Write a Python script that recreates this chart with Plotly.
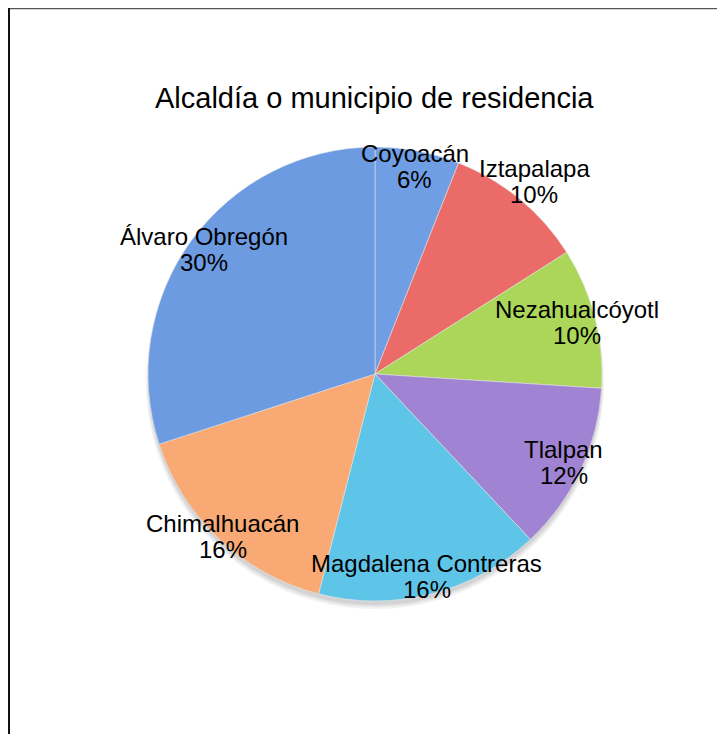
import math
import plotly.graph_objects as go

# ---- data ----
categories = ["Coyoacán", "Iztapalapa", "Nezahualcóyotl", "Tlalpan",
              "Magdalena Contreras", "Chimalhuacán", "Álvaro Obregón"]
values = [6, 10, 10, 12, 16, 16, 30]
title_text = "Alcaldía o municipio de residencia"

# ---- style ----
colors = ["#6f9ee4", "#ea6b68", "#acd659", "#a083d2", "#5fc5e8", "#f9aa74", "#6c9be2"]
label_radius = [0.93, 1.10, 0.92, 0.92, 0.92, 0.98, 0.93]

W, H = 725, 734
OFF = 8  # page body margin offset
cx, cy, R = 375 - OFF, 374 - OFF, 227
LINE_GAP = 26
FONT = "Liberation Sans, Arial, sans-serif"

fig = go.Figure()
fig.add_trace(go.Pie(
    labels=categories, values=values, sort=False, direction="clockwise",
    rotation=0, textinfo="none", hoverinfo="label+percent",
    marker=dict(colors=colors, line=dict(color="rgba(230,230,230,0.7)", width=0.8)),
    domain=dict(x=[(cx - R) / W, (cx + R) / W],
                y=[(H - cy - R) / H, (H - cy + R) / H]),
    showlegend=False,
))

total = sum(values)
cum = 0
annotations = []
for cat, v, rf in zip(categories, values, label_radius):
    mid = (cum + v / 2) / total * 2 * math.pi
    cum += v
    px = cx + rf * R * math.sin(mid)
    py = cy - rf * R * math.cos(mid)
    pct = round(v / total * 100)
    for txt, dy in ((cat, -LINE_GAP / 2), (f"{pct}%", LINE_GAP / 2)):
        annotations.append(dict(
            x=px / W, y=1 - (py + dy) / H, xref="paper", yref="paper",
            text=txt, showarrow=False, xanchor="center", yanchor="middle",
            font=dict(family=FONT, size=24, color="#000000"),
        ))

annotations.append(dict(
    x=(374 - OFF) / W, y=1 - (98 - OFF) / H, xref="paper", yref="paper", text=title_text,
    showarrow=False, xanchor="center", yanchor="middle",
    font=dict(family=FONT, size=29, color="#000000"),
))

shapes = []
# soft shadow under the pie
for i, op in enumerate([0.05, 0.06, 0.07]):
    d = 8 - i * 2
    shapes.append(dict(type="circle", xref="paper", yref="paper", layer="below",
                       x0=(cx - R - 2 + i) / W, x1=(cx + R + 2 - i) / W,
                       y0=1 - (cy + R + d) / H, y1=1 - (cy - R + d) / H,
                       fillcolor=f"rgba(0,0,0,{op})", line=dict(width=0)))
# chart frame (top and left edges visible)
shapes.append(dict(type="line", xref="paper", yref="paper", x0=0.5 / W, x1=1.0,
                   y0=1 - 0.5 / H, y1=1 - 0.5 / H, line=dict(color="#555555", width=1.5)))
shapes.append(dict(type="line", xref="paper", yref="paper", x0=1 / W, x1=1 / W,
                   y0=1, y1=0, line=dict(color="#111111", width=2)))

fig.update_layout(
    width=W, height=H, margin=dict(l=0, r=0, t=0, b=0),
    paper_bgcolor="white", plot_bgcolor="white",
    annotations=annotations, shapes=shapes,
)

fig.write_html("out.html")
